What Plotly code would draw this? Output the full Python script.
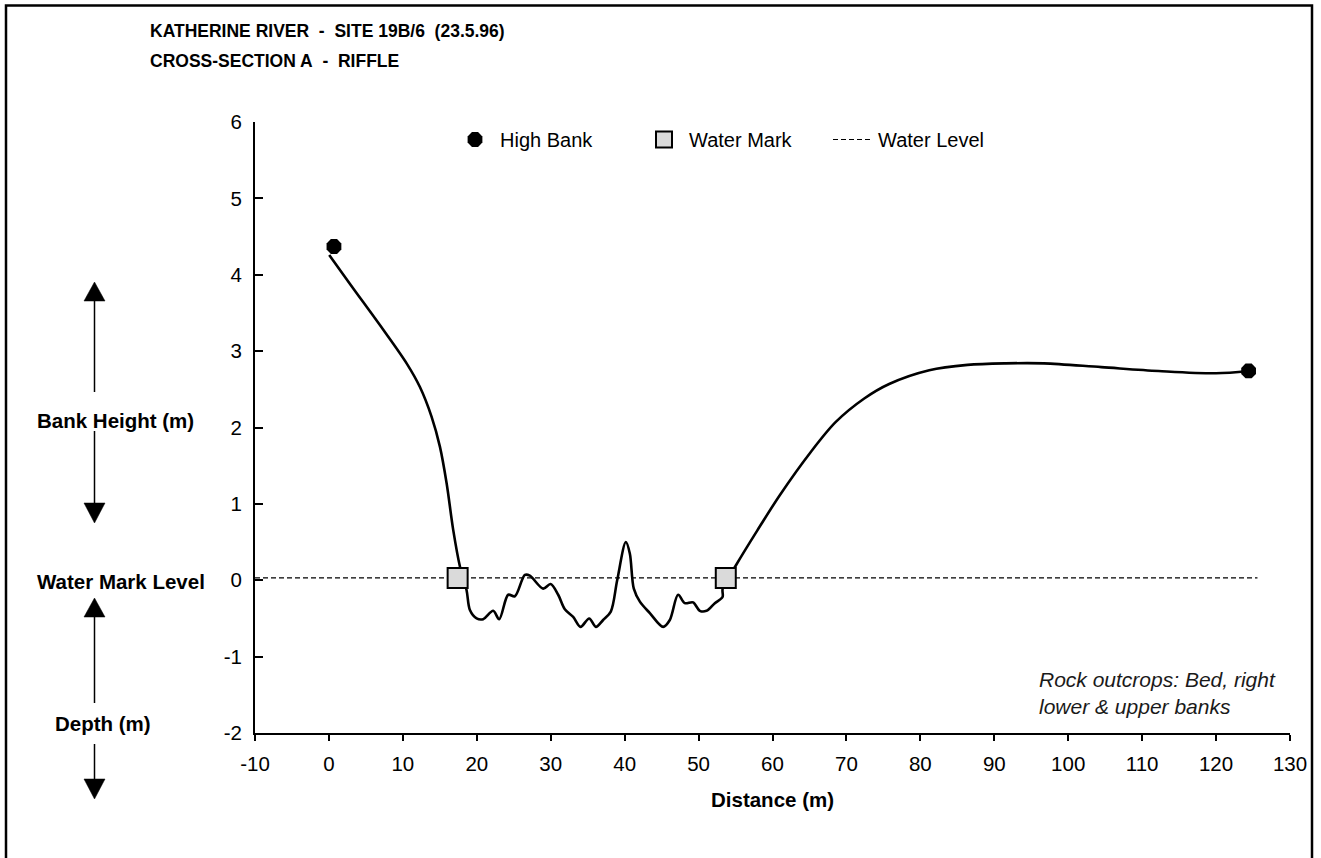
import plotly.graph_objects as go

# ---- data ----
profile_x = [0.04, 2.85, 7.35, 10.51, 12.31, 13.89, 15.01, 15.92, 16.81, 17.72,
             18.62, 19.07, 19.98, 20.87, 22.22, 23.03, 24.25, 25.15, 26.51, 27.18,
             28.98, 29.98, 31.01, 31.91, 33.04, 34.04, 35.20, 36.11, 37.09, 38.13,
             38.99, 40.16, 40.70, 41.24, 42.06, 43.41, 45.21, 46.11, 47.23, 48.14,
             49.26, 50.17, 51.07, 52.20, 53.24, 53.26, 55.08, 57.93, 61.03, 65.18,
             68.53, 72.41, 75.78, 81.20, 86.38, 91.54, 96.72, 104.48, 112.23, 119.99,
             124.40]
profile_y = [4.26, 3.88, 3.28, 2.84, 2.53, 2.14, 1.75, 1.27, 0.66, 0.18,
             -0.13, -0.39, -0.50, -0.51, -0.40, -0.51, -0.19, -0.21, 0.07, 0.06,
             -0.11, -0.05, -0.19, -0.38, -0.48, -0.61, -0.50, -0.61, -0.52, -0.41,
             0.00, 0.50, 0.35, -0.11, -0.28, -0.43, -0.61, -0.52, -0.19, -0.30,
             -0.29, -0.40, -0.40, -0.30, -0.22, -0.11, 0.20, 0.65, 1.12, 1.68,
             2.07, 2.38, 2.57, 2.75, 2.82, 2.84, 2.84, 2.79, 2.74, 2.71,
             2.74]

high_bank_x = [0.68, 124.40]
high_bank_y = [4.37, 2.74]

water_mark_x = [17.41, 53.68]
water_mark_y = [0.03, 0.03]

water_level_x = [-10, 125.6]
water_level_y = [0.03, 0.03]

x_ticks = list(range(-10, 131, 10))
x_tick_labels = [str(v) for v in x_ticks]
y_ticks = list(range(-2, 7, 1))
y_tick_labels = [str(v) for v in y_ticks]

W, H = 1321, 858
L, R, T, B = 255, 1290, 122, 733   # plot area in pixels
FONT = "Liberation Sans, Arial, sans-serif"


def px(x):
    return (x - L) / (R - L)


def py(y):
    return (B - y) / (B - T)


fig = go.Figure()

fig.add_trace(go.Scatter(x=profile_x, y=profile_y, mode='lines',
                         line=dict(color='black', width=2.6, shape='spline',
                                   smoothing=0.9),
                         showlegend=False, hoverinfo='skip'))

fig.add_trace(go.Scatter(x=water_level_x, y=water_level_y, mode='lines',
                         name='Water Level', legendrank=3,
                         line=dict(color='black', width=1.2, dash='5px,3px')))

fig.add_trace(go.Scatter(x=high_bank_x, y=high_bank_y, mode='markers',
                         name='High Bank', legendrank=1,
                         marker=dict(symbol='octagon', size=16, color='black')))

fig.add_trace(go.Scatter(x=water_mark_x, y=water_mark_y, mode='markers',
                         name='Water Mark', legendrank=2,
                         marker=dict(symbol='square', size=20, color='#dadada',
                                     line=dict(color='black', width=2))))

# outer frame (open at the bottom)
shapes = [dict(type='path', xref='paper', yref='paper',
               path=f"M {px(6)} {py(870)} L {px(6)} {py(5.5)} "
                    f"L {px(1312)} {py(5.5)} L {px(1312)} {py(870)}",
               line=dict(color='black', width=2.5))]

# vertical arrows on the left side
ax_ = 94.5
for top, bottom, up in [(282, 392, True), (431, 523, False),
                        (598, 703, True), (744, 799, False)]:
    if up:
        tip, base, s0, s1 = top, top + 19, top + 19, bottom
    else:
        tip, base, s0, s1 = bottom, bottom - 20, top, bottom - 20
    shapes.append(dict(type='line', xref='paper', yref='paper',
                       x0=px(ax_), x1=px(ax_), y0=py(s0), y1=py(s1),
                       line=dict(color='black', width=1.5)))
    shapes.append(dict(type='path', xref='paper', yref='paper',
                       path=f"M {px(ax_ - 10.5)} {py(base)} L {px(ax_ + 10.5)} {py(base)} "
                            f"L {px(ax_)} {py(tip)} Z",
                       fillcolor='black', line=dict(color='black', width=0.5)))

nb = '\u00a0'
annotations = [
    dict(text='Bank Height (m)', x=px(35), y=py(420), size=20.5),
    dict(text='Water Mark Level', x=px(35), y=py(581), size=20.5),
    dict(text='Depth (m)', x=px(53), y=py(723), size=20.5),
    dict(text=f"KATHERINE RIVER{nb} -{nb} SITE 19B/6{nb} (23.5.96)",
         x=px(148), y=py(31), size=17.5),
    dict(text=f"CROSS-SECTION A{nb} -{nb} RIFFLE", x=px(148), y=py(61), size=17.5),
]
for a in annotations:
    a.update(xref='paper', yref='paper', xanchor='left', yanchor='middle',
             showarrow=False,
             font=dict(family=FONT, size=a.pop('size'), color='black',
                       weight='bold'))

annotations.append(dict(text='Rock outcrops: Bed, right<br>lower & upper banks',
                        x=px(1037), y=py(693), xref='paper', yref='paper',
                        xanchor='left', yanchor='middle', align='left',
                        showarrow=False,
                        font=dict(family=FONT, size=21, color='#1a1a1a',
                                  style='italic')))

fig.update_layout(
    width=W, height=H,
    paper_bgcolor='white', plot_bgcolor='white',
    margin=dict(l=L, r=W - R, t=T, b=H - B, pad=0),
    font=dict(family=FONT, size=20.5, color='black'),
    xaxis=dict(range=[-10, 130], tickvals=x_ticks, ticktext=x_tick_labels,
               showgrid=False, zeroline=False, showline=True,
               linecolor='black', linewidth=2,
               ticks='outside', ticklen=6, tickwidth=2, tickcolor='black',
               ticklabelstandoff=5,
               title=dict(text='<b>Distance (m)</b>', standoff=19,
                          font=dict(size=20.5))),
    yaxis=dict(range=[-2, 6], tickvals=y_ticks, ticktext=y_tick_labels,
               showgrid=False, zeroline=False, showline=True,
               linecolor='black', linewidth=2,
               ticks='inside', ticklen=8, tickwidth=2, tickcolor='black',
               ticklabelstandoff=7),
    legend=dict(orientation='h', x=px(450), xanchor='left',
                y=py(120), yanchor='top', traceorder='normal',
                itemwidth=40, entrywidth=134, entrywidthmode='pixels',
                font=dict(family=FONT, size=20, color='black'),
                bgcolor='rgba(0,0,0,0)'),
    shapes=shapes,
    annotations=annotations,
)

fig.write_html("out.html", config={'displayModeBar': False},
               post_script="document.body.style.margin='0';")
